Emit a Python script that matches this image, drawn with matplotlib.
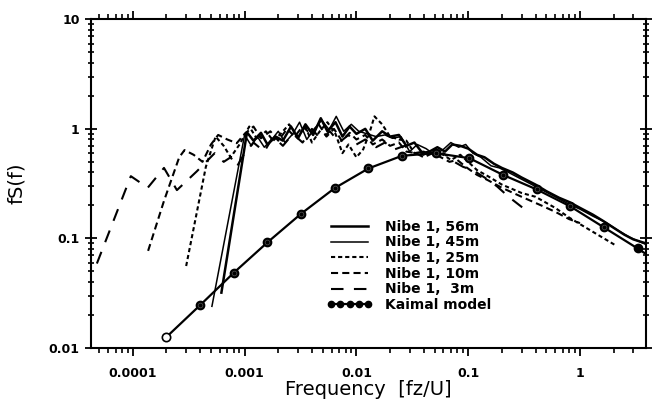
import matplotlib
matplotlib.use("Agg")
import matplotlib.pyplot as plt
from matplotlib.lines import Line2D
import numpy as np

# ---------------- data ----------------
f56 = [6.2e-4, 1.05e-3, 1.2e-3, 1.4e-3, 1.6e-3, 1.9e-3, 2.2e-3, 2.6e-3, 3.0e-3, 3.5e-3,
       4.1e-3, 4.8e-3, 5.5e-3, 6.5e-3, 7.5e-3, 8.7e-3, 0.010, 0.012, 0.014, 0.017,
       0.020, 0.024, 0.028, 0.033, 0.039, 0.045, 0.053, 0.062, 0.072, 0.085,
       0.10, 0.12, 0.14, 0.17, 0.2, 0.25, 0.3, 0.4, 0.5, 0.65, 0.8, 1.0, 1.3, 1.6,
       2.0, 2.5, 3.0, 3.9]
s56 = [0.032, 0.93, 0.78, 0.92, 0.72, 0.85, 0.78, 1.05, 0.82, 1.1,
       0.88, 1.25, 0.95, 1.15, 0.85, 1.05, 0.9, 1.0, 0.78, 0.95,
       0.85, 0.88, 0.7, 0.75, 0.6, 0.62, 0.68, 0.62, 0.72, 0.7,
       0.66, 0.58, 0.55, 0.48, 0.44, 0.40, 0.36, 0.31, 0.27, 0.235, 0.215, 0.19, 0.165, 0.145,
       0.125, 0.108, 0.098, 0.09]

f45 = [5.1e-4, 1.0e-3, 1.15e-3, 1.3e-3, 1.5e-3, 1.75e-3, 2.0e-3, 2.3e-3, 2.7e-3, 3.1e-3,
       3.6e-3, 4.2e-3, 4.9e-3, 5.7e-3, 6.6e-3, 7.7e-3, 9.0e-3, 0.0105, 0.0125, 0.015,
       0.018, 0.021, 0.025, 0.03, 0.035, 0.042, 0.05, 0.06, 0.07, 0.082,
       0.095, 0.11, 0.13, 0.16, 0.19, 0.23, 0.28, 0.35, 0.45, 0.6, 0.8, 1.0, 1.3, 1.7,
       2.2, 2.8, 3.9]
s45 = [0.024, 0.88, 0.7, 0.85, 0.68, 0.8, 0.95, 0.75, 0.9, 1.15,
       0.8, 1.0, 1.2, 0.98, 1.3, 0.95, 1.1, 0.95, 0.9, 0.85,
       0.88, 0.82, 0.85, 0.62, 0.72, 0.66, 0.58, 0.65, 0.75, 0.68,
       0.72, 0.6, 0.55, 0.46, 0.44, 0.4, 0.36, 0.32, 0.28, 0.24, 0.205, 0.185, 0.16, 0.14,
       0.118, 0.102, 0.088]

f25 = [3.0e-4, 4.5e-4, 5.5e-4, 6.5e-4, 7.5e-4, 9.0e-4, 1.1e-3, 1.3e-3, 1.55e-3, 1.8e-3,
       2.1e-3, 2.5e-3, 3.0e-3, 3.5e-3, 4.0e-3, 4.7e-3, 5.5e-3, 6.5e-3, 7.5e-3, 8.5e-3,
       0.01, 0.0115, 0.013, 0.0145, 0.017, 0.02, 0.024, 0.028, 0.033, 0.04,
       0.05, 0.06, 0.07, 0.085, 0.1, 0.12, 0.15, 0.2, 0.3, 0.4, 0.6, 0.8, 1.0, 1.4, 2.1]
s25 = [0.056, 0.45, 0.85, 0.7, 0.55, 0.72, 1.05, 0.8, 0.95, 0.78,
       0.9, 1.1, 0.85, 1.05, 0.75, 0.95, 1.15, 0.9, 0.6, 0.72,
       0.55, 0.65, 0.9, 1.3, 1.1, 0.85, 0.8, 0.78, 0.6, 0.58,
       0.62, 0.58, 0.52, 0.58, 0.5, 0.42, 0.37, 0.31, 0.26, 0.24, 0.19, 0.155, 0.135, 0.11, 0.086]

f10 = [1.37e-4, 1.9e-4, 2.6e-4, 2.9e-4, 3.5e-4, 4.2e-4, 5.0e-4, 5.8e-4, 7.0e-4, 8.5e-4,
       1.0e-3, 1.2e-3, 1.4e-3, 1.7e-3, 2.0e-3, 2.4e-3, 2.8e-3, 3.3e-3, 3.9e-3, 4.6e-3,
       5.4e-3, 6.3e-3, 7.4e-3, 8.7e-3, 0.01, 0.012, 0.014, 0.017, 0.02, 0.024,
       0.028, 0.034, 0.04, 0.048, 0.057, 0.068, 0.08, 0.095, 0.12, 0.15, 0.2, 0.3,
       0.45, 0.6, 0.8, 1.0]
s10 = [0.077, 0.22, 0.55, 0.64, 0.58, 0.5, 0.72, 0.88, 0.8, 0.74,
       0.9, 1.05, 0.82, 0.95, 0.78, 1.0, 0.85, 1.05, 0.9, 1.1,
       0.85, 1.0, 0.78, 0.92, 0.8, 0.88, 0.72, 0.8, 0.7, 0.75,
       0.62, 0.6, 0.55, 0.6, 0.55, 0.5, 0.52, 0.45, 0.38, 0.34, 0.29, 0.24,
       0.2, 0.175, 0.15, 0.138]

f3 = [4.77e-5, 9.6e-5, 1.36e-4, 1.9e-4, 2.48e-4, 3.74e-4, 5.4e-4, 6.5e-4, 7.5e-4, 8.5e-4,
      1.0e-3, 1.2e-3, 1.5e-3, 1.8e-3, 2.2e-3, 2.7e-3, 3.3e-3, 4.0e-3, 4.8e-3, 5.8e-3,
      7.0e-3, 8.5e-3, 0.01, 0.012, 0.015, 0.018, 0.022, 0.027, 0.033, 0.04,
      0.05, 0.06, 0.075, 0.09, 0.11, 0.14, 0.18, 0.23, 0.33]
s3 = [0.059, 0.37, 0.29, 0.44, 0.276, 0.41, 0.6, 0.5, 0.55, 0.45,
      0.6, 0.75, 0.62, 0.85, 0.7, 0.9, 0.75, 1.0, 0.8, 0.95,
      0.75, 0.88, 0.72, 0.8, 0.68, 0.75, 0.65, 0.7, 0.6, 0.62,
      0.55, 0.6, 0.5, 0.45, 0.42, 0.36, 0.3, 0.24, 0.18]

fk = [2.0e-4, 4.0e-4, 8.0e-4, 1.6e-3, 3.2e-3, 6.4e-3, 0.0128, 0.0256, 0.0512, 0.1024,
      0.2048, 0.4096, 0.8192, 1.6384, 3.2768, 3.9]
sk = [0.0126, 0.0246, 0.0486, 0.092, 0.168, 0.288, 0.435, 0.568, 0.60, 0.54,
      0.38, 0.28, 0.196, 0.126, 0.081, 0.072]

labels = ["Nibe 1, 56m", "Nibe 1, 45m", "Nibe 1, 25m", "Nibe 1, 10m", "Nibe 1,  3m", "Kaimal model"]
xticks = [0.0001, 0.001, 0.01, 0.1, 1]
xticklabels = ["0.0001", "0.001", "0.01", "0.1", "1"]
yticks = [0.01, 0.1, 1, 10]
yticklabels = ["0.01", "0.1", "1", "10"]

# ---------------- figure ----------------
plt.rcParams['font.family'] = ['DejaVu Sans']
fig = plt.figure(figsize=(6.64, 4.07), dpi=100)
ax = fig.add_axes([0.1366, 0.145, 0.973 - 0.1366, 0.9526 - 0.145])

h56, = ax.plot(f56, s56, color='black', lw=1.8, ls='-')
h45, = ax.plot(f45, s45, color='black', lw=1.1, ls='-')
h25, = ax.plot(f25, s25, color='black', lw=1.5, dashes=(2.0, 1.4))
h10, = ax.plot(f10, s10, color='black', lw=1.5, dashes=(3.4, 2.0))
h3, = ax.plot(f3, s3, color='black', lw=1.5, dashes=(6.0, 5.0))
ax.plot(fk, sk, color='black', lw=1.6, ls='-')
# filled markers (ring + dark centre) on inner points, open at the first
ax.plot(fk[1:15], sk[1:15], ls='none', marker='o', markersize=6,
        markerfacecolor='black', markeredgecolor='black', markeredgewidth=1.0)
ax.plot(fk[1:14], sk[1:14], ls='none', marker='o', markersize=3.4,
        markerfacecolor='black', markeredgecolor='#555555', markeredgewidth=0.5)
ax.plot(fk[:1], sk[:1], ls='none', marker='o', markersize=6,
        markerfacecolor='white', markeredgecolor='black', markeredgewidth=1.2)

ax.set_xscale('log')
ax.set_yscale('log')
ax.set_xlim(4.2e-5, 3.9)
ax.set_ylim(0.01, 10)

ax.set_xticks(xticks)
ax.set_xticklabels(xticklabels, fontsize=9, fontweight='bold')
ax.set_yticks(yticks)
ax.set_yticklabels(yticklabels, fontsize=9, fontweight='bold')

for s in ax.spines.values():
    s.set_linewidth(1.5)

ax.tick_params(axis='x', which='major', direction='out', length=6, width=1.3,
               top=True, bottom=True, pad=8)
ax.tick_params(axis='x', which='minor', direction='out', length=3.5, width=1.2,
               top=True, bottom=True)
ax.tick_params(axis='y', which='major', direction='inout', length=8, width=1.3,
               left=True, right=True, pad=4)
ax.tick_params(axis='y', which='minor', direction='inout', length=4, width=1.2,
               left=True, right=True)

ax.set_xlabel("Frequency  [fz/U]", fontsize=14, labelpad=0)
ax.set_ylabel("fS(f)", fontsize=14, labelpad=16)

hk = Line2D([], [], color='black', lw=1.6, marker='o', markersize=4.5,
            markerfacecolor='black', markeredgecolor='black')
leg = ax.legend([h56, h45, h25, h10, h3, hk], labels, loc='upper left',
                bbox_to_anchor=(0.425, 0.39), numpoints=5,
                frameon=False, fontsize=10, handlelength=3.3, handletextpad=0.9,
                labelspacing=0.12, borderaxespad=0, borderpad=0)
for t in leg.get_texts():
    t.set_fontweight('bold')

fig.savefig("out.png", dpi=100)
